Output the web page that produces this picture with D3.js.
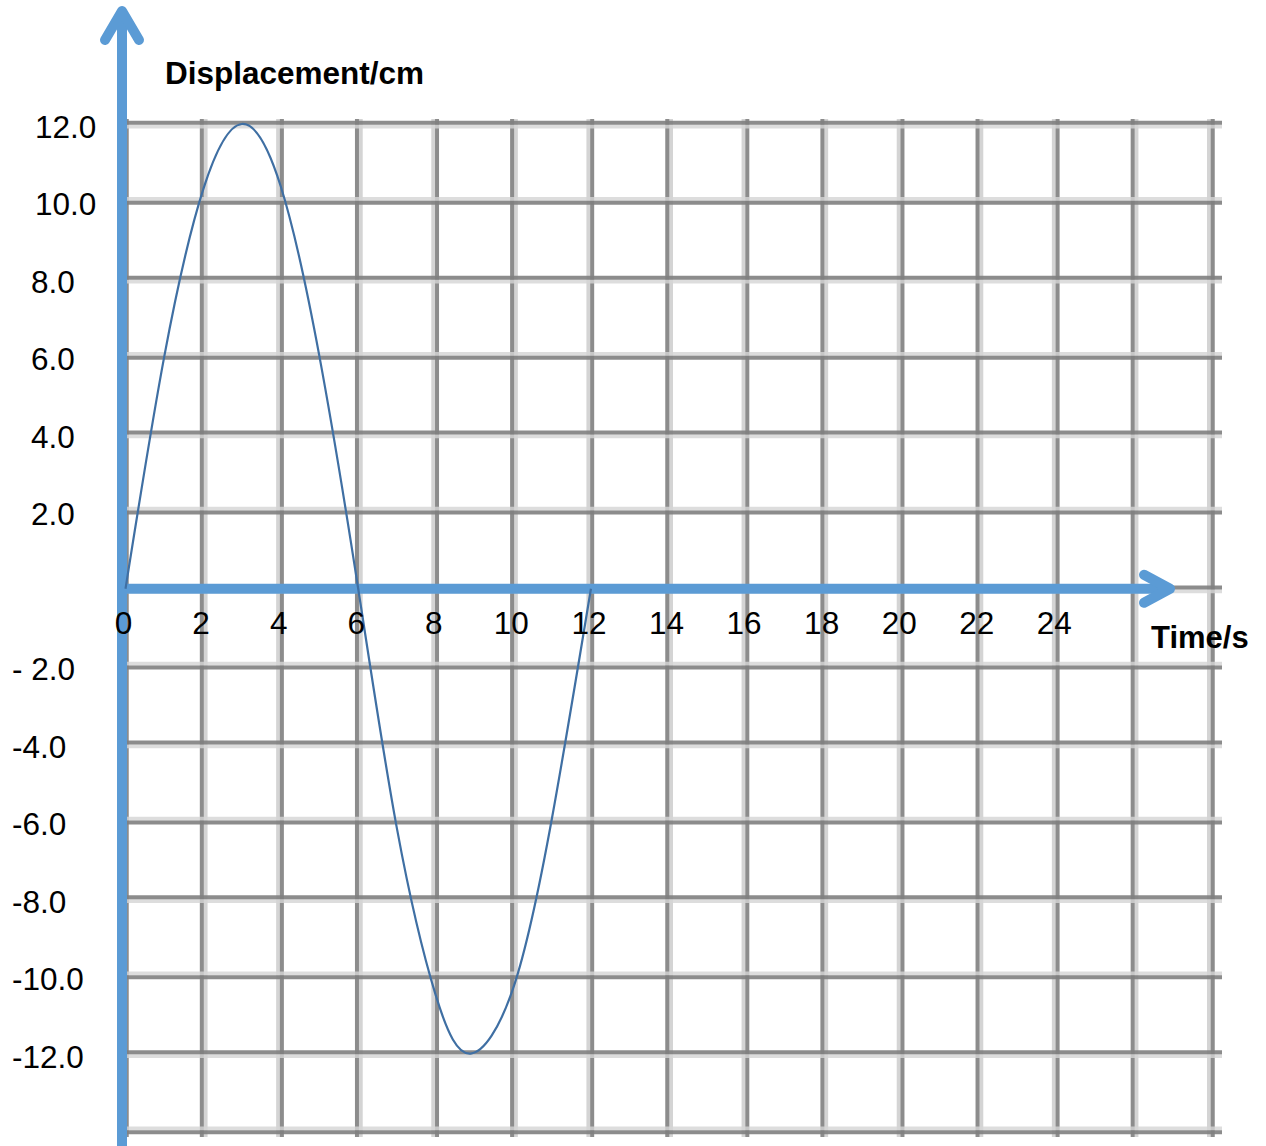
<!DOCTYPE html>
<html>
<head>
<meta charset="utf-8">
<script src="https://cdn.jsdelivr.net/npm/d3@7"></script>
<style>
  html, body { margin: 0; padding: 0; background: #fff; }
  svg { display: block; font-family: "Liberation Sans", Arial, sans-serif; }
</style>
</head>
<body>
<svg id="chart" width="1266" height="1146"></svg>
<script>
// ---- data ----
const timeTicks = [0, 2, 4, 6, 8, 10, 12, 14, 16, 18, 20, 22, 24];
const gridTimes = [0, 2, 4, 6, 8, 10, 12, 14, 16, 18, 20, 22, 24, 26, 28];
const gridDisp = [12, 10, 8, 6, 4, 2, 0, -2, -4, -6, -8, -10, -12, -14];
const dispTicks = [12, 10, 8, 6, 4, 2, -2, -4, -6, -8, -10, -12];
const dispTickLabels = ["12.0", "10.0", "8.0", "6.0", "4.0", "2.0", "- 2.0", "-4.0", "-6.0", "-8.0", "-10.0", "-12.0"];
const curveTime = [0, 1, 2, 3, 4, 5, 6, 7, 8, 8.9, 10, 11, 12];
const curveDisp = [0, 6.0, 10.3, 12, 10.4, 6.0, 0, -6.2, -10.5, -12, -10.3, -5.9, 0];
const yTitle = "Displacement/cm";
const xTitle = "Time/s";

// ---- scales ----
const svg = d3.select("#chart");
const x = d3.scaleLinear().domain([0, 28]).range([125.5, 1211.5]);
const y = d3.scaleLinear().domain([-14, 12]).range([1131, 124]);

const axisBlue = "#5b9bd5";
const dark = "#808080";
const light = "#d4d4d4";

// ---- grid ----
const grid = svg.append("g");
const gx0 = 127, gx1 = 1222, gy0 = 119, gy1 = 1137;
gridTimes.forEach((t, i) => {
  const cx = x(t);
  const lightOff = (i % 2 === 0) ? -2.5 : 2.5;
  grid.append("line").attr("x1", cx + lightOff).attr("x2", cx + lightOff)
    .attr("y1", gy0).attr("y2", gy1).attr("stroke", light).attr("stroke-width", 4);
  grid.append("line").attr("x1", cx - lightOff * 0.5).attr("x2", cx - lightOff * 0.5)
    .attr("y1", gy0).attr("y2", gy1).attr("stroke", dark).attr("stroke-width", 4)
    .attr("stroke-opacity", 0.9);
});
gridDisp.forEach((v, i) => {
  const cy = y(v);
  const lightOff = (i % 2 === 0) ? 2.5 : -2.5;
  grid.append("line").attr("y1", cy + lightOff).attr("y2", cy + lightOff)
    .attr("x1", gx0).attr("x2", gx1).attr("stroke", light).attr("stroke-width", 4)
    .attr("stroke-opacity", 0.8);
  grid.append("line").attr("y1", cy - lightOff * 0.5).attr("y2", cy - lightOff * 0.5)
    .attr("x1", gx0).attr("x2", gx1).attr("stroke", dark).attr("stroke-width", 4)
    .attr("stroke-opacity", 0.9);
});

// ---- axes (blue arrows) ----
const ax = svg.append("g").attr("stroke", axisBlue).attr("fill", "none")
  .attr("stroke-width", 10).attr("stroke-linecap", "round").attr("stroke-linejoin", "round");
const x0 = x(0) - 3.5, y0 = y(0);
ax.append("line").attr("x1", x0).attr("x2", x0).attr("y1", 1150).attr("y2", 12).attr("stroke-linecap", "butt");
ax.append("path").attr("d", `M${x0 - 17},${40} L${x0},${11} L${x0 + 17},${40}`);
ax.append("line").attr("x1", x0 - 5).attr("x2", 1168).attr("y1", y0).attr("y2", y0).attr("stroke-linecap", "butt");
ax.append("path").attr("d", `M${1144},${y0 - 14} L${1170},${y0} L${1144},${y0 + 14}`);

// ---- curve ----
const pts = curveTime.map((t, i) => [t, curveDisp[i]]);
const line = d3.line().x(d => x(d[0])).y(d => y(d[1])).curve(d3.curveNatural);
svg.append("path").datum(pts).attr("d", line)
  .attr("fill", "none").attr("stroke", "#3f6fa3").attr("stroke-width", 2.2);

// ---- tick labels ----
const fs = 31.5;
svg.append("g").selectAll("text").data(timeTicks).join("text")
  .attr("x", d => x(d) - 2).attr("y", y(0) + 45)
  .attr("text-anchor", "middle").attr("font-size", fs).attr("fill", "#000")
  .text(d => d);

svg.append("g").selectAll("text").data(dispTicks).join("text")
  .attr("x", d => d >= 10 ? 35 : (d > 0 ? 31 : 12))
  .attr("y", d => y(d) + 14)
  .attr("text-anchor", "start").attr("font-size", fs).attr("fill", "#000")
  .text((d, i) => dispTickLabels[i]);

// ---- titles ----
svg.append("text").attr("x", 165).attr("y", 84).attr("font-size", 31.5).attr("font-weight", "bold")
  .attr("fill", "#000").text(yTitle);
svg.append("text").attr("x", 1151).attr("y", 648).attr("font-size", 31).attr("font-weight", "bold")
  .attr("fill", "#000").text(xTitle);
</script>
</body>
</html>
